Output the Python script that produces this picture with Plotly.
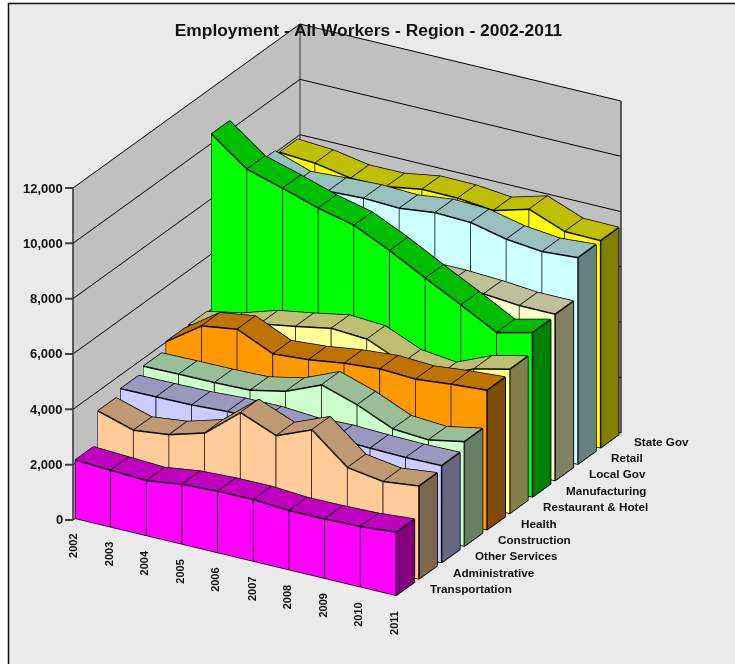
import plotly.graph_objects as go

years = [2002, 2003, 2004, 2005, 2006, 2007, 2008, 2009, 2010, 2011]
categories = ["Transportation", "Administrative", "Other Services", "Construction", "Health",
              "Restaurant & Hotel", "Manufacturing", "Local Gov", "Retail", "State Gov"]
transportation = [2110, 2045, 1980, 2157, 2215, 2222, 2132, 2140, 2175, 2280]
administrative = [3289, 2900, 3050, 3420, 4465, 3940, 4460, 3405, 3210, 3360]
other_services = [3502, 3512, 3531, 3600, 3614, 3520, 3560, 3513, 3484, 3502]
construction = [3720, 3740, 3745, 3780, 4050, 4590, 4177, 3618, 3530, 3777]
health = [4015, 4893, 5081, 4500, 4600, 4781, 4886, 4821, 4951, 5042]
restaurant = [4033, 4286, 4687, 4900, 5140, 5060, 4510, 4359, 4911, 5208]
manufacturing = [10336, 9371, 8992, 8580, 8272, 7665, 6979, 6321, 5630, 5938]
local_gov = [6500, 6500, 6400, 6350, 6300, 6200, 6190, 6126, 6013, 6010]
retail = [8063, 7626, 7700, 7756, 7702, 7853, 7803, 7510, 7373, 7463]
state_gov = [7896, 7810, 7575, 7582, 7795, 7781, 7644, 8001, 7502, 7485]
series = [transportation, administrative, other_services, construction, health,
          restaurant, manufacturing, local_gov, retail, state_gov]
z_ticks = [0, 2000, 4000, 6000, 8000, 10000, 12000]
front_colors = ["#FF00FF", "#FFCC99", "#CCCCFF", "#CCFFCC", "#FF9900", "#FFFF99", "#00FF00", "#FFFFCC", "#CCFFFF", "#FFFF00"]
top_colors = ["#BF00BF", "#BF9973", "#9999BF", "#99BF99", "#BF7300", "#BFBF73", "#00BF00", "#BFBF99", "#99BFBF", "#BFBF00"]
side_colors = ["#800080", "#80664D", "#666680", "#668066", "#804D00", "#80804D", "#008000", "#808066", "#668080", "#808000"]

GAP = 0.1
fig = go.Figure()
ex, ey, ez = [], [], []


def seg(*pts):
    for p in pts:
        ex.append(p[0]); ey.append(p[1]); ez.append(p[2])
    ex.append(None); ey.append(None); ez.append(None)


n = len(years)
for c, vals in enumerate(series):
    y0, y1 = c + GAP, c + 1 - GAP
    xs, ys, zs = [], [], []
    I, J, K, fc = [], [], [], []

    def quad(a, b, d, e, col):
        s = len(xs)
        for p in (a, b, d, e):
            xs.append(p[0]); ys.append(p[1]); zs.append(p[2])
        I.extend([s, s]); J.extend([s + 1, s + 2]); K.extend([s + 2, s + 3])
        fc.extend([col, col])

    for t in range(n - 1):
        v0, v1 = vals[t], vals[t + 1]
        quad((t, y0, 0), (t + 1, y0, 0), (t + 1, y0, v1), (t, y0, v0), front_colors[c])
        quad((t, y0, v0), (t + 1, y0, v1), (t + 1, y1, v1), (t, y1, v0), top_colors[c])
    last = vals[-1]
    quad((n - 1, y0, 0), (n - 1, y1, 0), (n - 1, y1, last), (n - 1, y0, last), side_colors[c])
    fig.add_trace(go.Mesh3d(x=xs, y=ys, z=zs, i=I, j=J, k=K, facecolor=fc, flatshading=True,
                            lighting=dict(ambient=1, diffuse=0, specular=0, fresnel=0, roughness=1),
                            hoverinfo="skip", showscale=False))
    seg(*[(t, y0, vals[t]) for t in range(n)])
    seg(*[(t, y1, vals[t]) for t in range(n)])
    seg((0, y0, 0), (n - 1, y0, 0), (n - 1, y1, 0), (n - 1, y1, last))
    for t in range(n):
        seg((t, y0, 0), (t, y0, vals[t]), (t, y1, vals[t]))

fig.add_trace(go.Scatter3d(x=ex, y=ey, z=ez, mode="lines", line=dict(color="#000000", width=3),
                           hoverinfo="skip", showlegend=False, connectgaps=False))
# wall frame
fig.add_trace(go.Scatter3d(x=[0, 0, None, 0, 0, None, 9, 9], y=[0, 0, None, 10, 10, None, 10, 10],
                           z=[0, 12000, None, 0, 12000, None, 0, 12000], mode="lines",
                           line=dict(color="#303030", width=3), hoverinfo="skip", showlegend=False))

anns = []
for v in z_ticks:
    anns.append(dict(x=0, y=0, z=v, text="<b>%s</b>" % format(v, ","), showarrow=True, arrowhead=0,
                     arrowwidth=2, arrowcolor="#404040", ax=-8, ay=0, xanchor="right",
                     font=dict(size=13, family="Liberation Sans", color="#111111")))
for t, yr in enumerate(years):
    anns.append(dict(x=t, y=0, z=0, text="<b>%d</b>" % yr, showarrow=False, textangle=-90, yshift=-26,
                     font=dict(size=11, family="Liberation Sans", color="#111111")))
for c, name in enumerate(categories):
    anns.append(dict(x=n - 1, y=c + 0.5, z=0, text="<b>%s</b>" % name, showarrow=False, xanchor="left",
                     xshift=22.5, font=dict(size=11.7, family="Liberation Sans", color="#111111")))

axis = dict(showgrid=False, zeroline=False, showticklabels=False, ticks="", showspikes=False,
            title=dict(text=""), showline=False, showbackground=True, backgroundcolor="#C0C0C0")
W, H = 735, 664
vh = 621
eye_len = 3.0
lens = (370.5, 454.7, 365.1)
aspect = [l * eye_len / vh * (2 / 3) for l in lens]
fig.update_layout(
    width=W, height=H, margin=dict(l=0, r=0, t=0, b=0), paper_bgcolor="#FFFFFF", showlegend=False,
    title=dict(text="<b>Employment - All Workers - Region - 2002-2011</b>", x=368.5 / W, y=1 - 30 / H,
               xanchor="center", yanchor="middle", font=dict(size=17.4, family="Liberation Sans", color="#111111")),
    shapes=[dict(type="rect", xref="paper", yref="paper", x0=8.5 / W, x1=1.2, y0=-0.2, y1=1 - 3.5 / H,
                 line=dict(color="#111111", width=1.5), fillcolor="#EAEAEA", layer="below")],
    scene=dict(
        domain=dict(x=[0, 694 / W], y=[1 - vh / H, 1]),
        xaxis=dict(axis, range=[0, 9]),
        yaxis=dict(axis, range=[0, 10]),
        zaxis=dict(axis, range=[0, 12000], showgrid=True, gridcolor="#000000", gridwidth=2, tickvals=z_ticks,
                   showbackground=False),
        aspectmode="manual", aspectratio=dict(x=aspect[0], y=aspect[1], z=aspect[2]),
        bgcolor="rgba(0,0,0,0)",
        camera=dict(projection=dict(type="orthographic"), up=dict(x=0, y=0, z=1), center=dict(x=0, y=0, z=0),
                    eye=dict(x=0.4539 * eye_len, y=-0.7878 * eye_len, z=0.4162 * eye_len)),
        annotations=anns,
    ),
)
fig.write_html("out.html", config=dict(displayModeBar=False), post_script="document.body.style.margin='0';")
